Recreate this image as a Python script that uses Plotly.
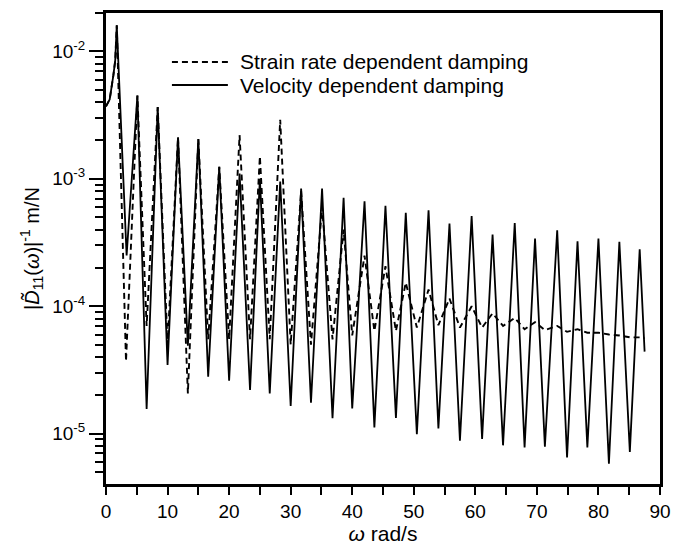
import plotly.graph_objects as go

# Velocity dependent damping (solid): frequency [rad/s] and |D11|^-1 [m/N]
omega_vel = [0.0, 0.6, 1.2, 1.5, 1.75, 3.35, 5.1, 6.6, 8.4, 10.0, 11.7, 13.3, 15.0, 16.6,
             18.4, 20.0, 21.7, 23.4, 25.0, 26.6, 28.3, 30.0, 31.7, 33.3, 35.1, 36.8,
             38.6, 40.0, 42.0, 43.6, 45.4, 47.1, 48.7, 50.5, 52.4, 54.0, 55.8, 57.5,
             59.4, 61.1, 62.8, 64.5, 66.4, 68.0, 69.7, 71.3, 73.3, 74.9, 76.6, 78.2,
             80.0, 81.7, 83.4, 85.1, 86.7, 87.5]
D_vel = [3.7e-3, 4.2e-3, 6.5e-3, 8.5e-3, 1.6e-2, 2.5e-4, 4.5e-3, 1.56e-5, 3.65e-3, 3.46e-5,
         2.12e-3, 4.9e-5, 2.05e-3, 2.8e-5, 1.24e-3, 2.6e-5, 1.1e-3, 2.2e-5, 1.0e-3, 2.07e-5,
         9.5e-4, 1.65e-5, 8.4e-4, 1.75e-5, 8.4e-4, 1.32e-5, 7.1e-4, 1.58e-5, 6.65e-4, 1.12e-5,
         6.15e-4, 1.33e-5, 5.4e-4, 9.9e-6, 5.66e-4, 1.1e-5, 4.45e-4, 8.8e-6, 5.1e-4, 9.1e-6,
         3.65e-4, 8.1e-6, 4.5e-4, 7.8e-6, 3.4e-4, 7.9e-6, 3.95e-4, 6.5e-6, 3.24e-4, 7.8e-6,
         3.4e-4, 5.8e-6, 3.2e-4, 7.2e-6, 2.8e-4, 4.4e-5]

# Strain rate dependent damping (dashed)
omega_str = [0.0, 0.6, 1.2, 1.5, 1.75, 3.25, 5.1, 6.6, 8.4, 10.0, 11.7, 13.3, 15.0, 16.6,
             18.4, 20.0, 21.7, 23.4, 25.0, 26.6, 28.3, 30.0, 31.7, 33.3, 35.1, 36.8,
             38.6, 40.0, 42.0, 43.6, 45.4, 47.1, 48.7, 50.5, 52.4, 54.0, 55.8, 57.5,
             59.4, 61.1, 62.8, 64.5, 66.4, 68.0, 69.7, 71.3, 73.3, 74.9, 76.6, 78.2,
             80.0, 81.7, 83.4, 85.1, 86.7, 87.5]
D_str = [3.7e-3, 4.2e-3, 6.5e-3, 8.5e-3, 1.6e-2, 3.7e-5, 4.5e-3, 7.0e-5, 3.65e-3, 5.0e-5,
         2.12e-3, 2.07e-5, 2.05e-3, 5.5e-5, 1.24e-3, 5.5e-5, 2.2e-3, 5.5e-5, 1.5e-3, 5.5e-5,
         2.9e-3, 5.0e-5, 8.0e-4, 5.0e-5, 6.0e-4, 5.5e-5, 4.0e-4, 5.9e-5, 2.5e-4, 6.4e-5,
         2.06e-4, 6.4e-5, 1.53e-4, 6.8e-5, 1.35e-4, 7.1e-5, 1.15e-4, 6.8e-5, 1.0e-4, 6.8e-5,
         8.8e-5, 7.0e-5, 8.1e-5, 6.6e-5, 7.5e-5, 6.5e-5, 7.0e-5, 6.3e-5, 6.6e-5, 6.2e-5,
         6.2e-5, 6.0e-5, 5.9e-5, 5.7e-5, 5.7e-5, 5.6e-5]

series_names = ["Strain rate dependent damping", "Velocity dependent damping"]

y_major = [1e-5, 1e-4, 1e-3, 1e-2]
y_major_text = ["10<sup>-5</sup>", "10<sup>-4</sup>", "10<sup>-3</sup>", "10<sup>-2</sup>"]
y_minor = [m * 10.0 ** e for e in range(-6, -1) for m in range(2, 10)]

font = "Liberation Sans, Arial, sans-serif"
dash_style = "6px,4px"

fig = go.Figure()
fig.add_trace(go.Scatter(x=omega_str, y=D_str, mode="lines", name=series_names[0],
                         showlegend=False,
                         line=dict(color="black", width=1.9, dash=dash_style)))
fig.add_trace(go.Scatter(x=omega_vel, y=D_vel, mode="lines", name=series_names[1],
                         showlegend=False,
                         line=dict(color="black", width=1.8)))

# legend (drawn in paper coordinates so the sample lines can be long)
leg_x0, leg_x1, leg_tx = 0.119, 0.22, 0.238
leg_y = [0.896, 0.847]
for i, (nm, dsh) in enumerate(zip(series_names, [dash_style, "solid"])):
    fig.add_shape(type="line", xref="paper", yref="paper",
                  x0=leg_x0, x1=leg_x1, y0=leg_y[i], y1=leg_y[i],
                  line=dict(color="black", width=1.9, dash=dsh))
    fig.add_annotation(xref="paper", yref="paper", x=leg_tx, y=leg_y[i],
                       xanchor="left", yanchor="middle", text=nm, showarrow=False,
                       font=dict(size=21, family=font, color="black"))

fig.update_layout(
    width=681, height=546,
    margin=dict(l=106, r=10, t=13, b=61),
    paper_bgcolor="white", plot_bgcolor="white",
    font=dict(family=font, size=18, color="black"),
    showlegend=False,
)
fig.update_xaxes(range=[0, 90], dtick=10, tick0=0,
                 showline=True, linewidth=3, linecolor="black", mirror=True,
                 ticks="outside", ticklen=8, tickwidth=1.5, tickcolor="black",
                 minor=dict(dtick=5, tick0=0, ticks="outside", ticklen=8,
                            tickwidth=1.5, tickcolor="black"),
                 showgrid=False, zeroline=False,
                 title=dict(text="<i>ω</i> rad/s", standoff=0, font=dict(size=21)),
                 tickfont=dict(size=19))
fig.update_yaxes(type="log", range=[-5.395, -1.699],
                 tickvals=y_major, ticktext=y_major_text,
                 showline=True, linewidth=3, linecolor="black", mirror=True,
                 ticks="outside", ticklen=14, tickwidth=1.5, tickcolor="black",
                 minor=dict(tickvals=y_minor, ticks="outside", ticklen=8,
                            tickwidth=1.5, tickcolor="black"),
                 showgrid=False, zeroline=False,
                 title=dict(text="|<i>D̃</i><sub>11</sub>(<i>ω</i>)|<sup>-1</sup> m/N",
                            standoff=8, font=dict(size=20)),
                 tickfont=dict(size=19))

fig.write_html("out.html")
